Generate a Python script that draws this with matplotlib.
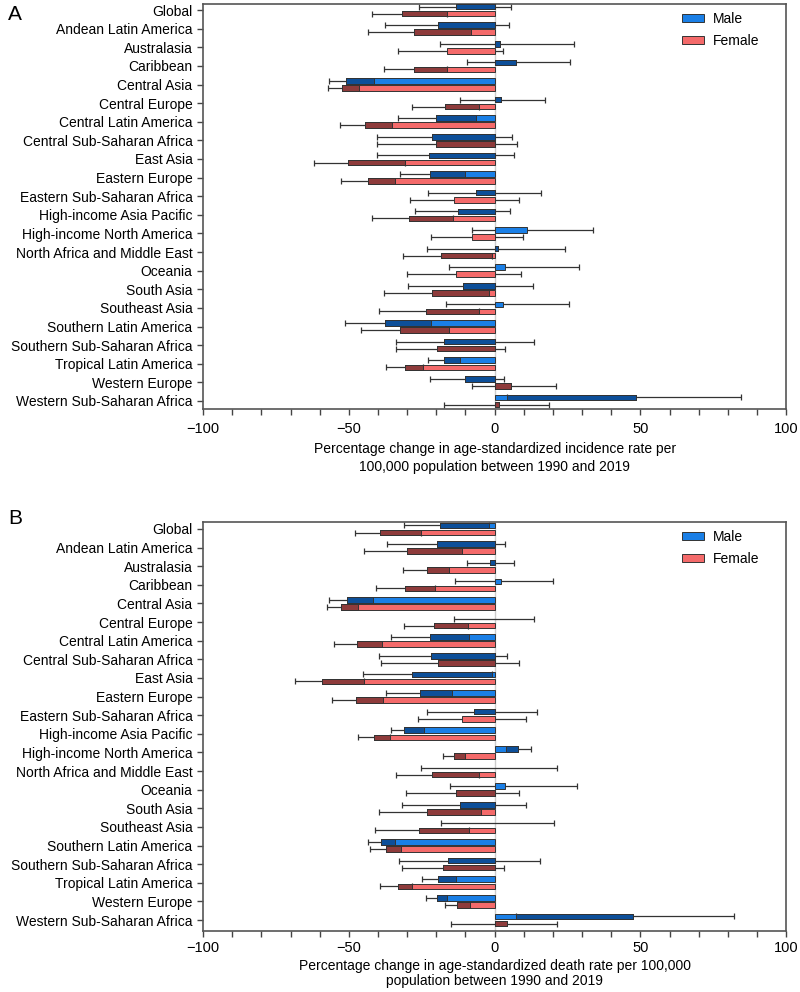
from matplotlib import pyplot as plt
from matplotlib.patches import Patch
from matplotlib.ticker import MultipleLocator

REGIONS = ['Global', 'Andean Latin America', 'Australasia', 'Caribbean', 'Central Asia',
           'Central Europe', 'Central Latin America', 'Central Sub-Saharan Africa', 'East Asia',
           'Eastern Europe', 'Eastern Sub-Saharan Africa', 'High-income Asia Pacific',
           'High-income North America', 'North Africa and Middle East', 'Oceania', 'South Asia',
           'Southeast Asia', 'Southern Latin America', 'Southern Sub-Saharan Africa',
           'Tropical Latin America', 'Western Europe', 'Western Sub-Saharan Africa']
X_TICKS = [-100, -50, 0, 50, 100]
X_TICK_LABELS = ['\u2212100', '\u221250', '0', '50', '100']

# incidence, male
inc_m = [-13.2, -19.4, 1.7, 7.4, -51.1, 2.3, -20.2, -21.5, -22.5, -22.1, -6.3,
         -12.6, 11.1, 1.1, 3.7, -10.7, 2.9, -37.6, -17.3, -17.5, -10.1, 48.6]
inc_m_lo = [-26.1, -37.6, -18.7, -9.5, -56.9, -11.8, -33.0, -40.4, -40.4, -32.6, -22.7,
            -27.3, -7.6, -23.3, -15.8, -29.6, -16.6, -51.3, -33.8, -23.0, -22.3, 4.2]
inc_m_hi = [5.7, 5.0, 27.1, 26.0, -41.4, 17.4, -6.4, 6.0, 6.8, -10.1, 15.9,
            5.4, 33.7, 24.3, 28.9, 13.2, 25.4, -21.8, 13.4, -11.8, 3.1, 84.6]
inc_m_dark = [0, 0, 0, 0, -41.4, 0, -6.4, 0, 0, -10.1, 0,
              0, 11.1, 0, 3.7, 0, 2.9, -21.8, 0, -11.8, 0, 4.2]
# incidence, female
inc_f = [-31.8, -27.8, -16.4, -27.6, -52.3, -17.0, -44.4, -20.2, -50.2, -43.5, -14.1,
         -29.3, -7.8, -18.3, -13.2, -21.5, -23.5, -32.4, -19.8, -30.7, 5.5, 1.4]
inc_f_lo = [-42.2, -43.5, -33.2, -37.9, -57.2, -28.2, -53.0, -40.4, -61.9, -52.8, -29.0,
            -42.2, -21.8, -31.3, -30.1, -37.9, -39.5, -45.9, -33.8, -37.2, -7.8, -17.3]
inc_f_hi = [-16.2, -8.0, 2.9, -16.2, -46.4, -5.5, -35.2, 7.7, -30.6, -34.1, 8.5,
            -14.4, 9.6, -0.9, 9.2, -1.8, -5.5, -15.8, 3.4, -24.7, 21.2, 18.6]
inc_f_dark = [-16.2, -8.0, -16.4, -16.2, -46.4, -5.5, -35.2, 0, -30.6, -34.1, -14.1,
              -14.4, -7.8, -0.9, -13.2, -1.8, -5.5, -15.8, 0, -24.7, 0, 0]

# death, male
dth_m = [-18.6, -19.6, -1.7, 2.3, -50.8, 0, -22.3, -21.9, -28.3, -25.7, -7.2,
         -31.1, 8.0, 0, 3.7, -12.0, 0, -38.8, -16.0, -19.4, -19.7, 47.6]
dth_m_lo = [-31.2, -36.9, -9.5, -13.5, -56.7, -13.8, -35.4, -39.6, -45.1, -37.1, -23.1,
            -35.4, 3.8, -25.3, -15.2, -31.7, -18.5, -43.4, -32.8, -24.9, -23.4, 7.2]
dth_m_hi = [-1.9, 3.7, 6.6, 20.0, -41.6, 13.5, -8.8, 4.2, -0.9, -14.6, 14.6,
            -24.2, 12.3, 21.3, 28.2, 10.6, 20.3, -34.0, 15.6, -13.4, -16.3, 82.2]
dth_m_dark = [-1.9, 0, 0, 2.3, -41.6, 0, -8.8, 0, -0.9, -14.6, 0,
              -24.2, 3.8, 0, 3.7, 0, 0, -34.0, 0, -13.4, -16.3, 7.2]
# death, female
dth_f = [-39.4, -30.0, -23.2, -30.8, -52.6, -20.8, -47.1, -19.4, -59.1, -47.4, -11.2,
         -41.4, -13.9, -21.5, -13.4, -23.2, -25.9, -37.4, -17.7, -33.3, -12.8, 4.3]
dth_f_lo = [-47.9, -44.9, -31.4, -40.8, -57.4, -31.2, -55.1, -39.0, -68.3, -55.9, -26.3,
            -46.9, -17.7, -33.7, -30.3, -39.6, -41.1, -42.6, -31.7, -39.3, -16.9, -15.0]
dth_f_hi = [-25.3, -11.2, -15.6, -20.3, -46.8, -9.1, -38.5, 8.3, -44.7, -38.4, 10.6,
            -35.8, -10.0, -5.4, 8.3, -4.6, -8.9, -32.1, 3.2, -28.2, -8.3, 21.5]
dth_f_dark = [-25.3, -11.2, -15.6, -20.3, -46.8, -9.1, -38.5, 0, -44.7, -38.4, -11.2,
              -35.8, -10.0, -5.4, 0, -4.6, -8.9, -32.1, 0, -28.2, -8.3, 0]

BLUE = '#1a7fe6'
DARK_BLUE = '#0d4f99'
RED = '#f46a6a'
DARK_RED = '#8e3b3b'
EDGE = '#333333'

plt.rcParams['font.family'] = ['Liberation Sans', 'DejaVu Sans']


def draw_bars(ax, pos, vals, lo, hi, dark, light_c, dark_c):
    for y, v, l, h, d in zip(pos, vals, lo, hi, dark):
        ax.errorbar(v, y, xerr=[[v - l], [h - v]], fmt='none', ecolor=EDGE,
                    elinewidth=0.9, capsize=2, capthick=0.9, zorder=1)
        if v != 0:
            ax.barh(y, v, height=0.3, color=light_c, edgecolor=EDGE, linewidth=0.7, zorder=2)
        if v != d:
            ax.barh(y, abs(v - d), left=min(v, d), height=0.3, color=dark_c,
                    edgecolor=EDGE, linewidth=0.7, zorder=3)


def draw_panel(ax, male, female, xlabel, ylim, pad, spacing):
    ys = list(range(len(REGIONS)))
    ax.axvline(0, color='#cccccc', lw=1.0, zorder=0.5)
    draw_bars(ax, [y - 0.19 for y in ys], *male, BLUE, DARK_BLUE)
    draw_bars(ax, [y + 0.19 for y in ys], *female, RED, DARK_RED)
    ax.set_xlim(-100, 100)
    ax.set_ylim(*ylim)
    ax.set_yticks(ys)
    ax.set_yticklabels(REGIONS, fontsize=10)
    ax.set_xticks(X_TICKS)
    ax.set_xticklabels(X_TICK_LABELS, fontsize=10.5)
    ax.xaxis.set_minor_locator(MultipleLocator(10))
    ax.tick_params(axis='y', length=4, width=1, color='#444444')
    ax.tick_params(axis='x', which='both', length=4, width=1, color='#444444', pad=pad)
    ax.set_xlabel(xlabel, fontsize=10, labelpad=pad, linespacing=spacing)
    for s in ax.spines.values():
        s.set_color('#555555')
        s.set_linewidth(1.2)
    handles = [Patch(facecolor=BLUE, edgecolor=EDGE, lw=0.7, label='Male'),
               Patch(facecolor=RED, edgecolor=EDGE, lw=0.7, label='Female')]
    ax.legend(handles=handles, loc='upper left', bbox_to_anchor=(0.8, 1.012), frameon=False,
              fontsize=10, handlelength=1.6, handleheight=0.5, handletextpad=0.6,
              labelspacing=0.55)


def main():
    fig = plt.figure(figsize=(8, 9.92), dpi=100)
    ax_a = fig.add_axes([0.2538, 0.5877, 0.729, 0.4078])
    ax_b = fig.add_axes([0.2538, 0.0615, 0.729, 0.412])
    draw_panel(ax_a, (inc_m, inc_m_lo, inc_m_hi, inc_m_dark),
               (inc_f, inc_f_lo, inc_f_hi, inc_f_dark),
               'Percentage change in age-standardized incidence rate per\n'
               '100,000 population between 1990 and 2019', (21.43, -0.30), 5, 1.3)
    draw_panel(ax_b, (dth_m, dth_m_lo, dth_m_hi, dth_m_dark),
               (dth_f, dth_f_lo, dth_f_hi, dth_f_dark),
               'Percentage change in age-standardized death rate per 100,000\n'
               'population between 1990 and 2019', (21.59, -0.36), 3, 1.1)
    fig.text(0.01, 0.995, 'A', fontsize=15, va='top')
    fig.text(0.01, 0.487, 'B', fontsize=15, va='top')
    fig.savefig('out.png', dpi=100)


if __name__ == '__main__':
    main()
